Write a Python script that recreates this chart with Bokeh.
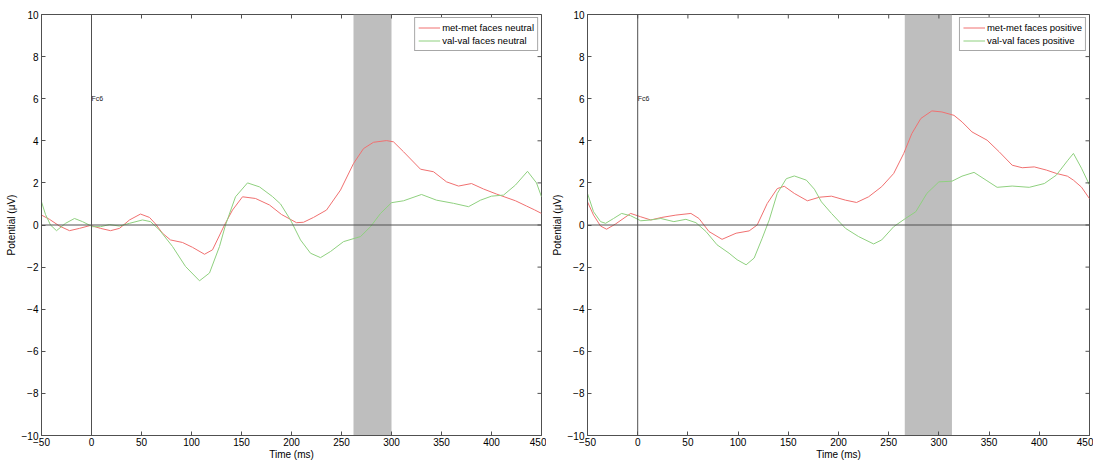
import math
from bokeh.plotting import figure
from bokeh.models import Span, Label, FixedTicker
from bokeh.layouts import row
from bokeh.embed import file_html
from bokeh.resources import INLINE

x_ticks = list(range(-50, 451, 50))
y_ticks = list(range(-10, 11, 2))

# ---- Left panel: neutral faces ----
t_neu_met = [-50, -42, -32, -22, -12, -1, 9, 19, 28, 38, 49, 58, 64, 71, 79, 91, 101, 113, 121, 133,
             141, 151, 164, 178, 190, 205, 212, 222, 235, 249, 262, 272, 282, 295, 302, 312, 329, 342,
             355, 367, 380, 392, 405, 424, 435, 443, 450]
v_neu_met = [0.47, 0.27, -0.05, -0.27, -0.16, -0.02, -0.16, -0.27, -0.16, 0.24, 0.52, 0.36, 0.05, -0.39,
             -0.71, -0.83, -1.06, -1.39, -1.18, 0.0, 0.71, 1.34, 1.26, 0.95, 0.5, 0.11, 0.13, 0.36, 0.71,
             1.66, 2.92, 3.63, 3.93, 4.01, 3.95, 3.48, 2.65, 2.53, 2.05, 1.85, 1.97, 1.71, 1.47, 1.15,
             0.9, 0.72, 0.55]

t_neu_val = [-50, -46, -41, -35, -26, -17, -9, 1, 9, 18, 28, 38, 51, 59, 68, 81, 94, 108, 118, 128, 134,
             144, 156, 168, 181, 189, 199, 209, 219, 229, 239, 252, 269, 279, 289, 300, 312, 330, 345,
             362, 377, 389, 400, 412, 424, 436, 445, 450]
v_neu_val = [1.1, 0.5, 0.0, -0.27, 0.08, 0.31, 0.16, -0.08, -0.08, 0.02, -0.05, 0.08, 0.24, 0.16, -0.24,
             -1.02, -1.97, -2.65, -2.28, -1.02, 0.0, 1.34, 2.0, 1.81, 1.35, 1.0, 0.24, -0.71, -1.34, -1.55,
             -1.26, -0.79, -0.55, -0.08, 0.55, 1.06, 1.15, 1.45, 1.18, 1.03, 0.87, 1.18, 1.37, 1.42, 1.9,
             2.55, 2.0, 1.34]

shade_neu = (262, 300)

# ---- Right panel: positive faces ----
t_pos_met = [-50, -44, -37, -31, -22, -7, 3, 13, 24, 38, 53, 61, 71, 84, 98, 111, 119, 129, 139, 146,
             156, 169, 181, 193, 207, 218, 230, 243, 255, 265, 273, 282, 293, 303, 315, 323, 333, 348,
             360, 373, 383, 395, 407, 417, 428, 434, 442, 450]
v_pos_met = [1.1, 0.47, -0.05, -0.2, 0.05, 0.55, 0.39, 0.24, 0.36, 0.47, 0.55, 0.31, -0.31, -0.68, -0.39,
             -0.28, 0.0, 1.02, 1.73, 1.84, 1.5, 1.15, 1.32, 1.37, 1.18, 1.07, 1.34, 1.82, 2.45, 3.4, 4.34,
             5.06, 5.42, 5.37, 5.21, 4.9, 4.42, 4.03, 3.48, 2.84, 2.72, 2.76, 2.61, 2.45, 2.32, 2.13, 1.8,
             1.25]

t_pos_val = [-50, -44, -37, -32, -24, -16, -7, 3, 13, 23, 36, 48, 58, 68, 79, 91, 99, 108, 116, 124, 131,
             139, 148, 156, 168, 176, 183, 193, 207, 220, 235, 243, 255, 267, 277, 288, 300, 313, 323,
             335, 347, 358, 373, 390, 405, 417, 428, 434, 442, 450]
v_pos_val = [1.5, 0.63, 0.16, 0.08, 0.31, 0.55, 0.44, 0.2, 0.24, 0.31, 0.16, 0.27, 0.11, -0.31, -0.94,
             -1.34, -1.65, -1.89, -1.57, -0.63, 0.24, 1.5, 2.2, 2.33, 2.13, 1.7, 1.1, 0.55, -0.16, -0.55,
             -0.9, -0.71, -0.08, 0.32, 0.63, 1.5, 2.05, 2.08, 2.32, 2.5, 2.13, 1.79, 1.85, 1.79, 1.97, 2.37,
             3.05, 3.4, 2.7, 1.9]

shade_pos = (266, 313)

RED = "#f07070"
GREEN = "#8fd07f"
AX = "#505050"
FONT = "Liberation Sans"
X0, X1 = -50, 450
Y0, Y1 = -10, 10


def make_panel(t1, v1, t2, v2, shade, lab1, lab2, width, border_left, border_right):
    p = figure(width=width, height=462, x_range=(X0, X1), y_range=(Y0, Y1),
               output_backend="svg", toolbar_location=None,
               min_border_left=border_left, min_border_right=border_right,
               min_border_top=14, min_border_bottom=0)
    p.grid.visible = False
    p.outline_line_color = AX
    p.background_fill_color = "white"
    p.border_fill_color = "white"

    p.quad(left=[shade[0]], right=[shade[1]], bottom=[Y0], top=[Y1],
           fill_color="#bebebe", line_color=None)

    p.add_layout(Span(location=0, dimension="width", line_color=AX, line_width=1))
    p.add_layout(Span(location=0, dimension="height", line_color=AX, line_width=1))

    p.line(t1, v1, line_color=RED, line_width=1, legend_label=lab1)
    p.line(t2, v2, line_color=GREEN, line_width=1, legend_label=lab2)

    # inward tick marks on the top and right sides of the box (clipped to the frame)
    p.scatter(x=x_ticks, y=[Y1] * len(x_ticks), marker="dash", angle=math.pi / 2,
              size=8, line_color=AX, line_width=1)
    p.scatter(x=[X1] * len(y_ticks), y=y_ticks, marker="dash",
              size=8, line_color=AX, line_width=1)

    p.add_layout(Label(x=0, y=6, text="Fc6", text_font_size="7px", text_font=FONT,
                       text_color="#222222", text_baseline="middle", x_offset=0))

    for ax in (p.xaxis[0], p.yaxis[0]):
        ax.major_tick_in = 4
        ax.major_tick_out = 0
        ax.minor_tick_line_color = None
        ax.axis_line_color = AX
        ax.major_tick_line_color = AX
        ax.major_label_text_font = FONT
        ax.major_label_text_font_size = "10px"
        ax.major_label_text_color = "black"
        ax.axis_label_text_font = FONT
        ax.axis_label_text_font_size = "10px"
        ax.axis_label_text_font_style = "normal"
        ax.axis_label_text_color = "black"
    p.xaxis[0].ticker = FixedTicker(ticks=x_ticks)
    p.yaxis[0].ticker = FixedTicker(ticks=y_ticks)
    p.xaxis[0].axis_label = "Time (ms)"
    p.yaxis[0].axis_label = "Potential (μV)"
    p.xaxis[0].major_label_standoff = 2
    p.xaxis[0].axis_label_standoff = 0
    p.yaxis[0].major_label_standoff = 3
    p.yaxis[0].axis_label_standoff = 2

    lg = p.legend[0]
    lg.location = "top_right"
    lg.margin = 3
    lg.padding = 3
    lg.spacing = 0
    lg.glyph_width = 22
    lg.glyph_height = 13
    lg.label_height = 13
    lg.label_standoff = 2
    lg.label_text_font = FONT
    lg.label_text_font_size = "9.5px"
    lg.label_text_color = "black"
    lg.border_line_color = AX
    lg.border_line_width = 1
    lg.background_fill_alpha = 1.0
    return p


p1 = make_panel(t_neu_met, v_neu_met, t_neu_val, v_neu_val, shade_neu,
                "met-met faces neutral", "val-val faces neutral", 546, 41, 5)
p2 = make_panel(t_pos_met, v_pos_met, t_pos_val, v_pos_val, shade_pos,
                "met-met faces positive", "val-val faces positive", 547, 41, 4)

layout = row(p1, p2, spacing=0)
open("out.html", "w").write(file_html(layout, INLINE))
